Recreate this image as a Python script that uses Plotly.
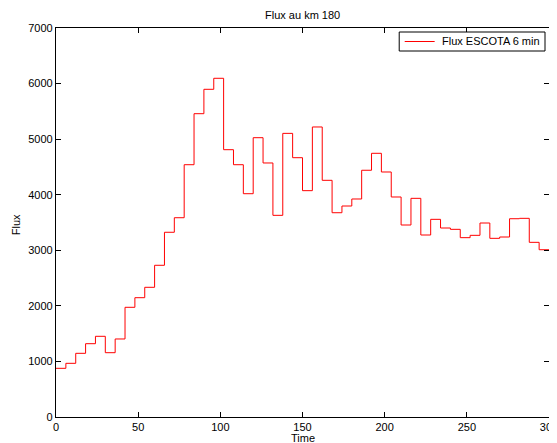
import numpy as np
import plotly.graph_objects as go

# 6-minute blocks of flux (start time of each block, minutes)
block_start = list(range(0, 300, 6))
flux = [876, 966, 1146, 1319, 1452, 1157, 1404, 1974, 2147, 2334,
        2730, 3324, 3586, 4540, 5458, 5897, 6095, 4810, 4540, 4018,
        5026, 4571, 3629, 5104, 4666, 4073, 5219, 4259, 3676, 3797,
        3923, 4440, 4745, 4409, 3959, 3455, 3935, 3275, 3557, 3401,
        3377, 3227, 3269, 3491, 3215, 3239, 3568, 3575, 3143, 3010]
x_ticks = [0, 50, 100, 150, 200, 250, 300]
y_ticks = [0, 1000, 2000, 3000, 4000, 5000, 6000, 7000]
series_name = "Flux ESCOTA 6 min"

x = block_start + [300]
y = flux + [flux[-1]]

OFF = 8  # page body margin
W, H = 557 - OFF, 443 - OFF
L, R, T, B = 55.8 - OFF, 549.5 - OFF, 28 - OFF, 417 - OFF
pw, ph = R - L, B - T

def px(xp):
    return (xp - OFF - L) / pw

def py(yp):
    return (B - (yp - OFF)) / ph

fig = go.Figure()
fig.add_trace(go.Scatter(x=x, y=y, mode="lines", line_shape="hv",
                         line=dict(color="#ff0000", width=1),
                         name=series_name, showlegend=False))

font = dict(family="Liberation Sans, Arial, sans-serif", size=11, color="#000000")
axis_common = dict(showgrid=False, zeroline=False, showline=True, linecolor="black",
                   linewidth=1.3, mirror="ticks", ticks="inside", ticklen=5,
                   tickcolor="black", tickfont=font, automargin=False,
                   ticklabeloverflow="allow")
fig.update_layout(
    width=W, height=H,
    margin=dict(l=L, r=W - R, t=T, b=H - B, autoexpand=False),
    paper_bgcolor="white", plot_bgcolor="white",
    font=font,
    xaxis=dict(range=[0, 300], tickvals=x_ticks, **axis_common),
    yaxis=dict(range=[0, 7000], tickvals=y_ticks, **axis_common),
    showlegend=False,
)
# title and axis labels
fig.add_annotation(text="Flux au km 180", xref="paper", yref="paper", x=0.5, y=py(14.5),
                   xanchor="center", yanchor="middle", showarrow=False, font=font)
fig.add_annotation(text="Time", xref="paper", yref="paper", x=0.5, y=py(437.5),
                   xanchor="center", yanchor="middle", showarrow=False, font=font)
fig.add_annotation(text="Flux", xref="paper", yref="paper", x=px(16), y=py(225),
                   xanchor="center", yanchor="middle", showarrow=False, font=font, textangle=-90)
# legend box
fig.add_shape(type="rect", xref="paper", yref="paper", x0=px(399.5), x1=px(545.5),
              y0=py(32), y1=py(51), fillcolor="white", line=dict(color="black", width=1),
              layer="above")
fig.add_shape(type="line", xref="paper", yref="paper", x0=px(405), x1=px(435),
              y0=py(41.5), y1=py(41.5), line=dict(color="#ff0000", width=1), layer="above")
fig.add_annotation(text=series_name, xref="paper", yref="paper", x=px(542), y=py(41.5),
                   xanchor="right", yanchor="middle", showarrow=False, font=font)
fig.write_html("out.html")
